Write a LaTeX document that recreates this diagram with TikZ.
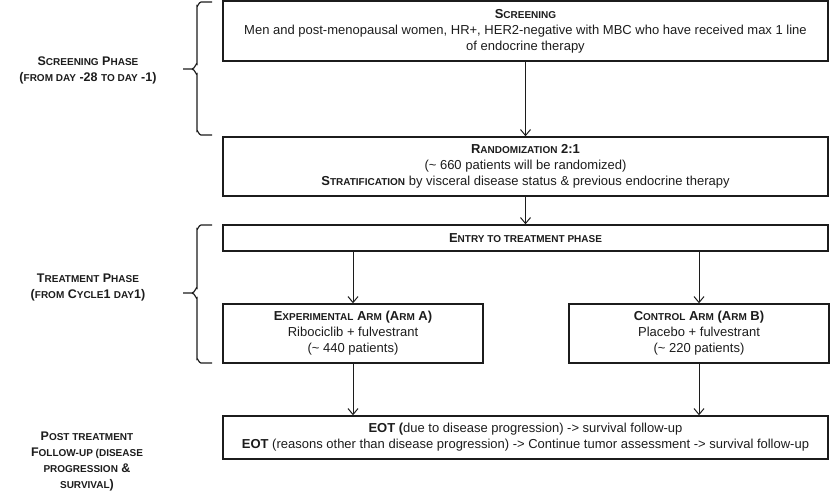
\documentclass[tikz,border=0pt]{standalone}
\usepackage{fontspec}
\setmainfont{Liberation Sans}
\usepackage{tikz}
\usetikzlibrary{calc}
\usetikzlibrary{arrows.meta}
\usetikzlibrary{positioning}
\definecolor{inkgray}{RGB}{28, 28, 28}
\newcommand{\sm}[1]{{\fontsize{10}{16}\selectfont #1}}
\tikzset{
  stagebox/.style={draw=inkgray, line width=1.4pt, align=center, inner sep=0pt,
                   font=\fontsize{13}{16}\selectfont, text=inkgray},
  flow/.style={draw=inkgray, line width=1pt, -{Straight Barb[length=6pt,width=10pt]}},
  phaselabel/.style={align=center, inner sep=0pt, text=inkgray,
                     font=\bfseries\fontsize{12.5}{16}\selectfont},
  phasebrace/.style={draw=inkgray, line width=1.2pt}
}

\begin{document}
\begin{tikzpicture}[x=1pt, y=-1pt]
            \useasboundingbox (0,0) rectangle (830,499);
            % boxes
            \node[stagebox, minimum width=605pt, minimum height=60pt] (scr)   at (525.5, 31.0)
                 {\textbf{S\sm{CREENING}}\\
                  Men and post-menopausal  women, HR+, HER2-negative  with MBC who have received max 1 line\\
                  of endocrine therapy};
            \node[stagebox, minimum width=605pt, minimum height=59pt] (rand)  at (525.5,166.5)
                 {\textbf{R\sm{ANDOMIZATION} 2:1}\\
                  (\textasciitilde{} 660 patients will be randomized)\\
                  \textbf{S\sm{TRATIFICATION}} by visceral disease status \& previous endocrine therapy};
            \node[stagebox, minimum width=605pt, minimum height=26pt] (entry) at (525.5,238.0)
                 {\textbf{E\sm{NTRY TO TREATMENT PHASE}}};
            \node[stagebox, minimum width=260pt, minimum height=59pt] (armA)  at (353.0,333.5)
                 {\textbf{E\sm{XPERIMENTAL} A\sm{RM} (A\sm{RM} A)}\\
                  Ribociclib + fulvestrant\\
                  (\textasciitilde{} 440 patients)};
            \node[stagebox, minimum width=260pt, minimum height=59pt] (armB)  at (699.0,333.5)
                 {\textbf{C\sm{ONTROL} A\sm{RM} (A\sm{RM} B)}\\
                  Placebo + fulvestrant\\
                  (\textasciitilde{} 220 patients)};
            \node[stagebox, minimum width=605pt, minimum height=43pt] (eot)   at (525.5,437.5)
                 {\textbf{EOT (}due to disease progression) -> survival  follow-up\\
                  \textbf{EOT} (reasons other than disease progression) -> Continue tumor assessment  -> survival  follow-up};
            % arrows
            \draw[flow] (scr.south)   -- (rand.north);
            \draw[flow] (rand.south)  -- (entry.north);
            \draw[flow] (entry.south -| armA.north) -- (armA.north);
            \draw[flow] (entry.south -| armB.north) -- (armB.north);
            \draw[flow] (armA.south)  -- (armA.south |- eot.north);
            \draw[flow] (armB.south)  -- (armB.south |- eot.north);
            % phases on the left
            \node[phaselabel] (lscr)  at (88, 70)
                 {S\sm{CREENING} P\sm{HASE}\\(\sm{FROM DAY} -28 \sm{TO DAY} -1)};
            \node[phaselabel] (ltrt)  at (88,287)
                 {T\sm{REATMENT} P\sm{HASE}\\(\sm{FROM} C\sm{YCLE}1 \sm{DAY}1)};
            \node[phaselabel] (lpost) at (87,461)
                 {P\sm{OST TREATMENT}\\F\sm{OLLOW-UP (DISEASE}\\\sm{PROGRESSION} \&\\\sm{SURVIVAL})};
            \draw[phasebrace] (212,2) -- (201,2) to[out=180,in=-90] (197,6) -- (197,64)
                 to[out=90,in=0] (192,69) -- (183,69);
            \draw[phasebrace] (192,69) to[out=0,in=-90] (197,74) -- (197,131)
                 to[out=90,in=180] (201,135) -- (212,135);
            \draw[phasebrace] (212,225) -- (201,225) to[out=180,in=-90] (197,229) -- (197,288)
                 to[out=90,in=0] (192,293) -- (183,293);
            \draw[phasebrace] (192,293) to[out=0,in=-90] (197,298) -- (197,359)
                 to[out=90,in=180] (201,363) -- (212,363);
\end{tikzpicture}
\end{document}
